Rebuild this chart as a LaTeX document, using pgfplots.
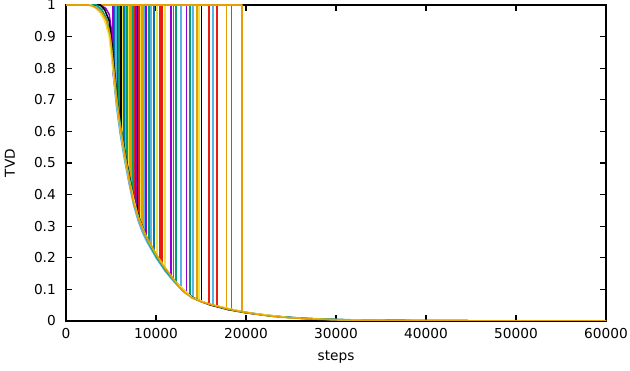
\documentclass[border=0pt]{standalone}
\usepackage{fontspec}
\setmainfont{DejaVu Sans}
\usepackage{pgfplots}
\pgfplotsset{compat=1.18}
\usepackage{pgfplotstable}
\usetikzlibrary{calc}
\definecolor{gpPurple}{RGB}{148,0,211}
\definecolor{gpGreen}{RGB}{0,158,115}
\definecolor{gpLBlue}{RGB}{86,180,233}
\definecolor{gpOrange}{RGB}{230,159,0}
\definecolor{gpYellow}{RGB}{240,228,66}
\definecolor{gpBlue}{RGB}{0,114,178}
\definecolor{gpRed}{RGB}{229,30,16}
\definecolor{gpBlack}{RGB}{0,0,0}

\pgfplotstableread{
x y
0 1
2500 1
3000 0.996
3500 0.988
4000 0.975
4500 0.95
4900 0.905
5300 0.80
5633 0.70
6000 0.62
6500 0.53
7000 0.45
7444 0.383
8000 0.33
8500 0.292
9000 0.262
9332 0.247
10000 0.212
10500 0.188
11000 0.167
11777 0.139
12400 0.114
13000 0.094
14000 0.073
15000 0.061
16000 0.053
17000 0.045
18000 0.038
19000 0.032
20442 0.025
22000 0.018
24000 0.012
26000 0.008
28000 0.0055
30000 0.004
33000 0.0025
36000 0.0015
40000 0.0009
45000 0.0005
50000 0.0003
60000 0.0001
}\envA

\pgfplotstableread{
x y
0 1
3000 1
3600 0.99
4200 0.97
4700 0.93
5000 0.87
5300 0.77
5600 0.68
6000 0.595
6500 0.51
7000 0.435
7500 0.368
8000 0.318
8500 0.28
9000 0.25
10000 0.2
11000 0.158
12000 0.124
13000 0.094
14000 0.074
15000 0.061
16000 0.052
18000 0.038
20000 0.028
22000 0.019
25000 0.011
30000 0.0045
40000 0.001
60000 0.0001
}\envB

\pgfplotstableread{
x y
0 1
3800 1
4300 0.985
4800 0.95
5100 0.88
5400 0.79
5700 0.70
6100 0.61
6600 0.525
7100 0.45
7600 0.38
8200 0.32
9000 0.262
10000 0.21
11000 0.168
12000 0.13
13000 0.1
14000 0.076
15000 0.062
16000 0.051
18000 0.036
20000 0.026
23000 0.015
27000 0.007
32000 0.003
40000 0.001
60000 0.0001
}\envC

\pgfplotstableread{
x y
0 1
3800 1
4400 0.99
4800 0.97
5000 0.93
5050 0.86
5150 0.84
5250 0.78
5500 0.72
5800 0.66
6200 0.585
6800 0.495
7400 0.40
8000 0.33
9000 0.26
10000 0.208
12000 0.127
14000 0.074
16000 0.052
20000 0.026
25000 0.01
30000 0.004
40000 0.001
60000 0.0001
}\envD

\pgfplotstableread{
x y
0 1
3400 1
4000 0.985
4600 0.95
5000 0.88
5400 0.77
5800 0.67
6400 0.555
7000 0.46
7600 0.375
8200 0.315
9000 0.258
10000 0.205
11000 0.163
12000 0.127
13000 0.097
14000 0.075
15000 0.062
16000 0.053
18000 0.037
20000 0.027
23000 0.015
27000 0.0075
32000 0.003
40000 0.001
60000 0.0001
}\envE

\pgfplotstableread{
x y
0 1
2800 1
3300 0.99
3800 0.975
4300 0.95
4800 0.9
5200 0.8
5600 0.7
6000 0.615
6500 0.525
7000 0.448
8000 0.33
9000 0.262
10000 0.211
12000 0.13
14000 0.074
16000 0.053
20000 0.027
25000 0.01
30000 0.004
40000 0.001
60000 0.0001
}\envF

\begin{document}
\begin{tikzpicture}
\begin{axis}[
  name=ax,
  scale only axis,
  width=540pt, height=316pt,
  xmin=0, xmax=60000, ymin=0, ymax=1,
  xtick={0,10000,20000,30000,40000,50000,60000},
  ytick={0,0.1,0.2,0.3,0.4,0.5,0.6,0.7,0.8,0.9,1},
  scaled x ticks=false,
  scaled y ticks=false,
  /pgf/number format/assume math mode=true,
  xticklabel style={/pgf/number format/fixed,/pgf/number format/1000 sep={},inner sep=0pt,anchor=north,yshift=-7pt},
  yticklabel style={/pgf/number format/fixed,inner sep=0pt,anchor=east,xshift=-10pt},
  tick align=inside,
  axis line style={line width=1.3pt},
  major tick style={line width=1.3pt,black},
  major tick length=6pt,
  font=\fontsize{13.7}{16}\selectfont,
  xlabel={steps}, ylabel={TVD},
  every axis x label/.style={at={(axis description cs:0.5,-0.1139)},anchor=center},
  every axis y label/.style={at={(axis description cs:-0.1037,0.5)},rotate=90,anchor=center},
  every axis plot/.append style={line width=1.5pt,line join=round},
  clip=true,
]
% curves that stay at 1 and then drop onto the common decay
\addplot[gpPurple] coordinates {(0,1)(5222,1)(5222,0.82)};
\addplot[gpBlue] coordinates {(0,1)(5388,1)(5388,0.775)};
\addplot[gpLBlue] coordinates {(0,1)(5555,1)(5555,0.725)};
\addplot[gpPurple] coordinates {(0,1)(5722,1)(5722,0.68)};
\addplot[gpGreen] coordinates {(0,1)(5888,1)(5888,0.645)};
\addplot[gpBlack] coordinates {(0,1)(6111,1)(6111,0.60)};
\addplot[gpYellow] coordinates {(0,1)(6277,1)(6277,0.57)};
\addplot[gpBlue] coordinates {(0,1)(6444,1)(6444,0.54)};
\addplot[gpLBlue] coordinates {(0,1)(6610,1)(6610,0.515)};
\addplot[gpGreen] coordinates {(0,1)(6777,1)(6777,0.485)};
\addplot[gpYellow] coordinates {(0,1)(6944,1)(6944,0.46)};
\addplot[gpOrange] coordinates {(0,1)(7110,1)(7110,0.435)};
\addplot[gpLBlue] coordinates {(0,1)(7277,1)(7277,0.41)};
\addplot[gpGreen] coordinates {(0,1)(7444,1)(7444,0.383)};
\addplot[gpRed] coordinates {(0,1)(7610,1)(7610,0.368)};
\addplot[gpPurple] coordinates {(0,1)(7777,1)(7777,0.352)};
\addplot[gpBlack] coordinates {(0,1)(7944,1)(7944,0.335)};
\addplot[gpRed] coordinates {(0,1)(8110,1)(8110,0.322)};
\addplot[gpYellow] coordinates {(0,1)(8277,1)(8277,0.308)};
\addplot[gpOrange] coordinates {(0,1)(8444,1)(8444,0.295)};
\addplot[gpLBlue] coordinates {(0,1)(8666,1)(8666,0.282)};
\addplot[gpPurple] coordinates {(0,1)(8888,1)(8888,0.268)};
\addplot[gpGreen] coordinates {(0,1)(9221,1)(9221,0.252)};
\addplot[gpLBlue] coordinates {(0,1)(9444,1)(9444,0.241)};
\addplot[gpBlue] coordinates {(0,1)(9777,1)(9777,0.222)};
\addplot[gpYellow] coordinates {(0,1)(10110,1)(10110,0.205)};
\addplot[gpRed] coordinates {(0,1)(10443,1)(10443,0.188)};
\addplot[gpRed] coordinates {(0,1)(10666,1)(10666,0.178)};
\addplot[gpYellow] coordinates {(0,1)(10999,1)(10999,0.165)};
\addplot[gpPurple] coordinates {(0,1)(11666,1)(11666,0.143)};
\addplot[gpGreen] coordinates {(0,1)(11943,1)(11943,0.131)};
\addplot[gpGreen] coordinates {(0,1)(12221,1)(12221,0.12)};
\addplot[gpLBlue] coordinates {(0,1)(12776,1)(12776,0.098)};
\addplot[gpPurple] coordinates {(0,1)(13388,1)(13388,0.083)};
\addplot[gpGreen] coordinates {(0,1)(13776,1)(13776,0.076)};
\addplot[gpLBlue] coordinates {(0,1)(14110,1)(14110,0.069)};
\addplot[gpOrange] coordinates {(0,1)(14554,1)(14554,0.066)};
\addplot[gpYellow] coordinates {(0,1)(14776,1)(14776,0.063)};
\addplot[gpBlack] coordinates {(0,1)(15054,1)(15054,0.06)};
\addplot[gpRed] coordinates {(0,1)(15887,1)(15887,0.054)};
\addplot[gpLBlue] coordinates {(0,1)(16332,1)(16332,0.051)};
\addplot[gpRed] coordinates {(0,1)(16776,1)(16776,0.047)};
\addplot[gpOrange] coordinates {(0,1)(17832,1)(17832,0.039)};
\addplot[gpGreen] coordinates {(0,1)(18387,1)(18387,0.036)};
\addplot[gpOrange] coordinates {(0,1)(19554,1)(19554,0.029)};
% common decay band
\addplot[gpPurple] table[x=x,y=y] {\envD};
\addplot[gpLBlue] table[x=x,y=y] {\envB};
\addplot[gpBlack] table[x=x,y=y] {\envC};
\addplot[gpGreen] table[x=x,y=y] {\envE};
\addplot[gpYellow] table[x=x,y=y] {\envF};
\addplot[gpOrange] table[x=x,y=y] {\envA};
\end{axis}
\pgfresetboundingbox
\path[use as bounding box] ($(ax.south west)+(-66pt,-50pt)$) rectangle ($(ax.north east)+(24pt,5pt)$);
\end{tikzpicture}
\end{document}
